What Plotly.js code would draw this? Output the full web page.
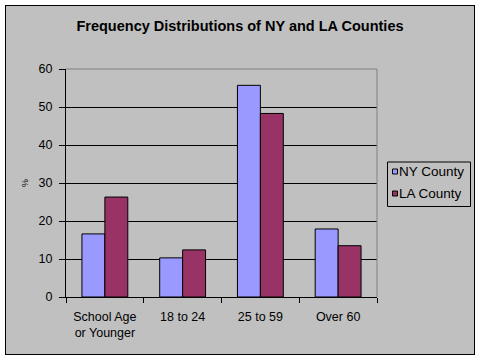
<!DOCTYPE html>
<html>
<head>
<meta charset="utf-8">
<script src="https://cdn.plot.ly/plotly-3.0.1.min.js"></script>
<style>
  html, body { margin: 0; padding: 0; background: #ffffff; }
  #frame { position: absolute; left: 5px; top: 5px; width: 468px; height: 348px; border: 1px solid #000000; }
  #chart { width: 468px; height: 348px; }
</style>
</head>
<body>
<div id="frame"><div id="chart"></div></div>
<script>
const categories = ["School Age<br>or Younger", "18 to 24", "25 to 59", "Over 60"];
const seriesNames = ["NY County", "LA County"];
const seriesColors = ["#9999FF", "#993366"];
const nyCounty = [16.6, 10.3, 55.7, 17.9];
const laCounty = [26.3, 12.4, 48.3, 13.5];
const yTicks = [0, 10, 20, 30, 40, 50, 60];

const font = "Arial, 'Liberation Sans', sans-serif";

// plot geometry (div pixels)
const W = 468, H = 348, L = 60, R = 97, T = 63, B = 57;
const pw = W - L - R, ph = H - T - B;
const px = X => (X - L) / pw;
const py = Y => 1 - (Y - T) / ph;

const traces = [
  { type: "bar", name: seriesNames[0], x: categories, y: nyCounty, showlegend: false,
    marker: { color: seriesColors[0], line: { color: "#000000", width: 1 } } },
  { type: "bar", name: seriesNames[1], x: categories, y: laCounty, showlegend: false,
    marker: { color: seriesColors[1], line: { color: "#000000", width: 1 } } }
];

// custom legend (box, swatches, labels)
const legendShapes = [
  { type: "rect", xref: "paper", yref: "paper", x0: px(381.5), x1: px(464.5), y0: py(156), y1: py(200.5),
    line: { color: "#000000", width: 1 }, fillcolor: "#C0C0C0", layer: "above" }
];
const legendAnnots = [];
const rowY = [165.5, 187.5];
seriesNames.forEach((n, i) => {
  legendShapes.push({ type: "rect", xref: "paper", yref: "paper",
    x0: px(386.5), x1: px(391.5), y0: py(rowY[i] - 2.5), y1: py(rowY[i] + 2.5),
    line: { color: "#000000", width: 1 }, fillcolor: seriesColors[i], layer: "above" });
  legendAnnots.push({ xref: "paper", yref: "paper", x: px(391), y: py(rowY[i]),
    xanchor: "left", yanchor: "middle", text: n, showarrow: false,
    font: { family: font, size: 13.5, color: "#000000" } });
});

const layout = {
  width: W, height: H,
  margin: { l: L, r: R, t: T, b: B, pad: 0, autoexpand: false },
  paper_bgcolor: "#C0C0C0",
  plot_bgcolor: "#C0C0C0",
  font: { family: font, size: 12, color: "#000000" },
  title: { text: "<b>Frequency Distributions of NY and LA Counties</b>",
           font: { family: font, size: 14.5, color: "#000000" },
           x: 0.5, xref: "container", xanchor: "center",
           y: 1 - 20 / H, yref: "container", yanchor: "middle" },
  barmode: "group",
  bargap: 0.41,
  bargroupgap: 0,
  showlegend: false,
  xaxis: { type: "category", showgrid: false, showline: true, linecolor: "#000000", linewidth: 1,
           ticks: "outside", tickson: "boundaries", ticklen: 5, tickcolor: "#000000",
           ticklabelstandoff: 8,
           tickfont: { family: font, size: 12.5 }, automargin: false, zeroline: false },
  yaxis: { range: [0, 60], tickvals: yTicks, ticktext: yTicks.map(String),
           showgrid: true, gridcolor: "#000000", gridwidth: 1,
           showline: true, linecolor: "#000000", linewidth: 1,
           ticks: "outside", ticklen: 6, tickcolor: "#000000",
           ticklabelstandoff: 4,
           tickfont: { family: font, size: 12.5 }, automargin: false, zeroline: false,
           title: { text: "%", font: { family: font, size: 9 }, standoff: 8 } },
  shapes: [
    { type: "line", xref: "paper", yref: "paper", x0: 0, x1: 1, y0: 1, y1: 1,
      line: { color: "#808080", width: 1 }, layer: "above" },
    { type: "line", xref: "paper", yref: "paper", x0: 1, x1: 1, y0: 0, y1: 1,
      line: { color: "#808080", width: 1 }, layer: "above" }
  ].concat(legendShapes),
  annotations: legendAnnots
};

Plotly.newPlot("chart", traces, layout, { displayModeBar: false, staticPlot: true });
</script>
</body>
</html>
